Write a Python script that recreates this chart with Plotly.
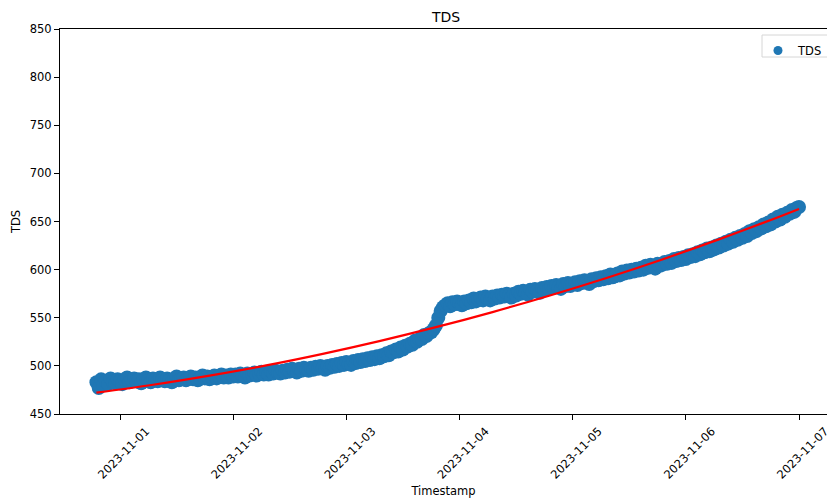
import pandas as pd
import plotly.graph_objects as go

# Half-hourly TDS readings
timestamps = pd.date_range("2023-10-31 19:00", "2023-11-07 00:00", freq="30min")
tds_values = [
    483, 477, 486, 480, 484, 481, 487, 483, 482, 486,
    484, 481, 486, 488, 483, 485, 487, 484, 486, 482,
    486, 488, 485, 483, 487, 485, 484, 488, 486, 484,
    487, 485, 483, 487, 489, 485, 486, 488, 485, 487,
    489, 486, 488, 485, 487, 490, 487, 489, 486, 488,
    490, 487, 489, 491, 488, 490, 488, 491, 489, 491,
    489, 492, 490, 488, 492, 490, 491, 493, 490, 492,
    494, 491, 493, 491, 494, 492, 495, 493, 492, 495,
    493, 496, 494, 497, 495, 493, 497, 495, 498, 496,
    495, 498, 496, 499, 497, 500, 498, 496, 500, 498,
    501, 499, 502, 500, 503, 501, 504, 502, 501, 505,
    503, 506, 504, 507, 505, 508, 506, 509, 507, 510,
    508, 511, 510, 513, 511, 515, 514, 517, 515, 519,
    517, 521, 520, 523, 522, 526, 525, 528, 528, 532,
    531, 534, 535, 538, 542, 550, 557, 561, 563, 565,
    562, 566, 564, 567, 565, 563, 567, 565, 568, 566,
    570, 567, 569, 571, 568, 572, 570, 568, 572, 570,
    573, 571, 574, 572, 575, 573, 571, 575, 573, 577,
    575, 578, 576, 574, 579, 577, 580, 578, 576, 581,
    579, 582, 580, 583, 581, 584, 582, 580, 585, 583,
    586, 583, 585, 587, 584, 588, 586, 589, 587, 585,
    590, 588, 591, 589, 592, 590, 593, 591, 595, 592,
    593, 596, 594, 598, 596, 599, 597, 600, 598, 601,
    599, 602, 600, 604, 602, 605, 603, 601, 606, 604,
    605, 608, 606, 609, 607, 611, 609, 612, 610, 613,
    611, 615, 613, 616, 614, 618, 616, 620, 618, 622,
    619, 623, 621, 625, 623, 627, 625, 629, 627, 631,
    629, 633, 631, 635, 633, 637, 635, 640, 638, 642,
    640, 644, 643, 647, 645, 649, 647, 652, 650, 655,
    652, 657, 655, 659, 658, 662, 660, 664, 665,
]

# Trend line
fit_times = [
    "2023-10-31 19:00", "2023-11-01 07:00", "2023-11-01 19:00",
    "2023-11-02 07:00", "2023-11-02 19:00", "2023-11-03 07:00",
    "2023-11-03 19:00", "2023-11-04 07:00", "2023-11-04 19:00",
    "2023-11-05 07:00", "2023-11-05 19:00", "2023-11-06 07:00",
    "2023-11-06 19:00", "2023-11-07 00:00",
]
fit_values = [472.2, 480.4, 489.9, 500.5, 512.5, 525.7, 540.2,
              555.9, 572.9, 591.1, 610.6, 631.4, 653.4, 663.0]

x_ticks = ["2023-11-01", "2023-11-02", "2023-11-03", "2023-11-04",
           "2023-11-05", "2023-11-06", "2023-11-07"]
y_ticks = [450, 500, 550, 600, 650, 700, 750, 800, 850]

FONT = "DejaVu Sans"
BLUE = "#1f77b4"

fig = go.Figure()
fig.add_trace(go.Scatter(
    x=timestamps, y=tds_values, mode="markers", name="TDS", showlegend=False,
    marker=dict(color=BLUE, size=14, line=dict(width=0)),
))
fig.add_trace(go.Scatter(
    x=pd.to_datetime(fit_times), y=fit_values, mode="lines", showlegend=False,
    line=dict(color="#ff0000", width=2.2, shape="spline"),
))
# legend entry (smaller symbol as in the reference)
fig.add_trace(go.Scatter(
    x=[None], y=[None], mode="markers", name="TDS", showlegend=True,
    marker=dict(color=BLUE, size=9),
))

day0 = pd.Timestamp("2023-11-01")
px_per_day = 113.17
x_left = day0 + pd.Timedelta(days=(60 - 120) / px_per_day)
x_right = day0 + pd.Timedelta(days=(827 - 120) / px_per_day)

fig.update_layout(
    width=827, height=499,
    margin=dict(l=60, r=0, t=29, b=85, autoexpand=False),
    paper_bgcolor="white", plot_bgcolor="white",
    font=dict(family=FONT, size=11.5, color="black"),
    title=dict(text="TDS", font=dict(size=14, color="black"),
               xref="container", x=446 / 827, xanchor="center",
               yref="container", y=1 - 17 / 499, yanchor="middle"),
    showlegend=True,
    legend=dict(x=(758 - 60) / 767, xanchor="left", y=(414 - 36) / 385, yanchor="top",
                bgcolor="rgba(0,0,0,0)", borderwidth=0, font=dict(size=11.5)),
    shapes=[dict(type="rect", xref="paper", yref="paper",
                 x0=(762 - 60) / 767, x1=1.05, y0=(414 - 57) / 385, y1=(414 - 35) / 385,
                 line=dict(color="#d6d6d6", width=1), fillcolor="rgba(255,255,255,0.8)",
                 layer="above")],
)
fig.update_xaxes(
    range=[x_left, x_right], tickvals=pd.to_datetime(x_ticks), ticktext=x_ticks,
    tickangle=-45, ticklabelshift=26, ticklabeloverflow="allow",
    ticks="outside", ticklen=5, tickcolor="black",
    showline=True, linecolor="black", linewidth=1, mirror=True, showgrid=False,
    zeroline=False, automargin=False,
    title=dict(text="Timestamp", font=dict(size=11.5), standoff=6),
)
fig.update_yaxes(
    range=[450, 850], tickvals=y_ticks, ticks="outside", ticklen=5, tickcolor="black",
    showline=True, linecolor="black", linewidth=1, showgrid=False, zeroline=False,
    automargin=False, title=dict(text="TDS", font=dict(size=11.5), standoff=6),
)

fig.write_html("out.html")
